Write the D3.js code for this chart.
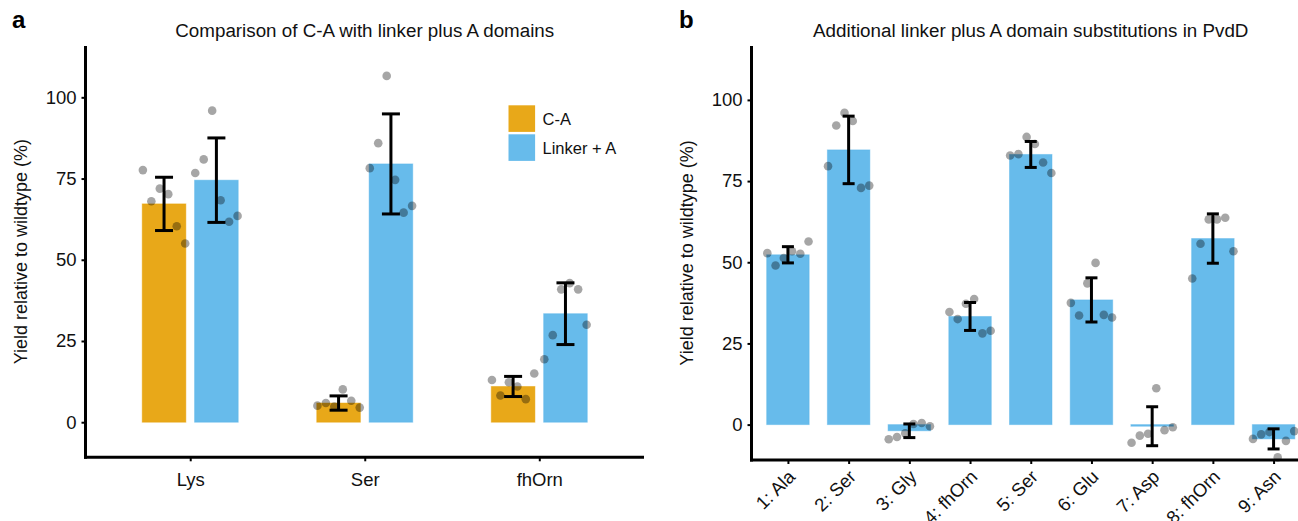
<!DOCTYPE html>
<html lang="en">
<head>
  <meta charset="UTF-8">
  <title>Linker plus A domain yields</title>
  <style>
    body, html {
      margin: 0;
      padding: 0;
      background: #fff;
    }
    #svg text {
      font-family: "Liberation Sans", Arial, Helvetica, sans-serif;
    }
  </style>
</head>
<body>
  <svg id="svg" width="1298" height="521"></svg>
  <script src="https://d3js.org/d3.v7.min.js"></script>
  <script>
    // Panel a: C-A vs linker + A
    const catsA = ['Lys', 'Ser', 'fhOrn']
    const seriesA = ['C-A', 'Linker + A']
    const meanCA = [67.2, 5.9, 11.0]
    const sdCA = [8.2, 2.2, 3.1]
    const meanLinker = [74.5, 79.5, 33.4]
    const sdLinker = [13.0, 15.4, 9.5]
    const pointsCA = [
      [77.6, 68.0, 71.9, 70.2, 60.3, 55.0],
      [5.1, 5.9, 4.8, 10.1, 6.6, 4.5],
      [13.0, 8.2, 12.3, 11.0, 7.1, 15.0]
    ]
    const pointsLinker = [
      [76.7, 80.9, 95.9, 68.3, 61.7, 63.5],
      [78.2, 85.9, 106.6, 74.6, 64.5, 66.6],
      [19.4, 26.8, 40.9, 42.8, 40.9, 30.0]
    ]

    // Panel b: additional substitutions in PvdD
    const catsB = ['1: Ala', '2: Ser', '3: Gly', '4: fhOrn', '5: Ser', '6: Glu', '7: Asp', '8: fhOrn', '9: Asn']
    const meanB = [52.3, 84.6, -1.9, 33.3, 83.2, 38.4, -0.5, 57.3, -4.4]
    const sdB = [2.5, 10.4, 2.1, 4.3, 4.0, 6.8, 6.0, 7.6, 3.1]
    const pointsB = [
      [52.8, 49.0, 51.3, 53.4, 52.6, 56.4],
      [79.6, 92.1, 96.0, 93.5, 72.9, 73.6],
      [-4.5, -3.8, -2.7, 0.2, 0.5, -0.5],
      [34.7, 32.5, 37.2, 38.7, 28.1, 28.9],
      [82.9, 83.3, 88.6, 86.4, 80.7, 77.5],
      [37.5, 33.6, 43.5, 49.8, 33.8, 33.0],
      [-5.6, -3.4, -2.8, 11.2, -1.7, -0.8],
      [45.0, 55.7, 63.2, 63.2, 63.7, 53.4],
      [-4.4, -3.0, -2.3, -10.1, -5.0, -2.0]
    ]

    const yTicks = [0, 25, 50, 75, 100]
    const colors = { 'C-A': '#E69F00', 'Linker + A': '#56B4E9' }

    const svg = d3.select('#svg')

    // draws axes, title, letter for one panel
    function drawFrame(g, x, y, opts) {
      const [x0, x1] = x.range()
      const [yb, yt] = y.range()

      const yAxis = g.append('g')
        .attr('transform', `translate(${x0},0)`)
        .call(d3.axisLeft(y).tickValues(yTicks).tickSize(4).tickSizeOuter(0).tickPadding(5))
      yAxis.select('.domain').remove()
      yAxis.selectAll('line').attr('stroke', '#000').attr('stroke-width', 2)
      yAxis.selectAll('text').attr('font-size', 18.5).attr('fill', '#111')

      const xAxis = g.append('g')
        .attr('transform', `translate(0,${yb})`)
        .call(d3.axisBottom(x).tickSize(4).tickSizeOuter(0).tickPadding(opts.rotate ? 6 : 12))
      xAxis.select('.domain').remove()
      xAxis.selectAll('line').attr('stroke', '#000').attr('stroke-width', 2)
      const xt = xAxis.selectAll('text').attr('font-size', 18.5).attr('fill', '#111')
      if (opts.rotate) {
        xt.attr('text-anchor', 'end')
          .attr('dy', '0.75em')
          .attr('transform', 'translate(-9,1) rotate(-45)')
      }

      // axis lines
      g.append('line')
        .attr('x1', x0).attr('x2', x0).attr('y1', yt).attr('y2', yb + 1.5)
        .attr('stroke', '#000').attr('stroke-width', 3)
      g.append('line')
        .attr('x1', x0 - 1.5).attr('x2', x1).attr('y1', yb).attr('y2', yb)
        .attr('stroke', '#000').attr('stroke-width', 3)

      g.append('text')
        .attr('x', (x0 + x1) / 2).attr('y', 37)
        .attr('text-anchor', 'middle')
        .attr('font-size', 18.8)
        .attr('fill', '#111')
        .text(opts.title)

      g.append('text')
        .attr('transform', `translate(${opts.ylabX},${(yt + yb) / 2}) rotate(-90)`)
        .attr('text-anchor', 'middle')
        .attr('font-size', 18)
        .attr('fill', '#111')
        .text('Yield relative to wildtype (%)')

      g.append('text')
        .attr('x', opts.letterX).attr('y', 28)
        .attr('font-size', 24)
        .attr('font-weight', 'bold')
        .text(opts.letter)
    }

    function drawBars(g, x, y, cats, means, sds, pts, color, offset, width, capW) {
      const step = x.step()
      const w = width * step
      const cx = d => x(d) + offset * step

      g.selectAll(null)
        .data(cats)
        .join('rect')
        .attr('x', d => cx(d) - w / 2)
        .attr('width', w)
        .attr('y', (d, i) => Math.min(y(means[i]), y(0)))
        .attr('height', (d, i) => Math.max(Math.abs(y(means[i]) - y(0)), 1))
        .attr('fill', color)
        .attr('fill-opacity', 0.9)
        .attr('stroke', color)
        .attr('stroke-opacity', 0.45)
        .attr('stroke-width', 1)

      // jittered replicate points
      const flat = []
      cats.forEach((c, i) => pts[i].forEach((v, j) => {
        flat.push({ x: cx(c) + (j / (pts[i].length - 1) - 0.5) * w * 0.97, v })
      }))
      g.selectAll(null)
        .data(flat)
        .join('circle')
        .attr('cx', d => d.x)
        .attr('cy', d => y(d.v))
        .attr('r', 4.3)
        .attr('fill', '#000')
        .attr('fill-opacity', 0.35)

      // error bars (mean +/- sd)
      const eb = g.selectAll(null)
        .data(cats)
        .join('g')
        .attr('stroke', '#000')
        .attr('stroke-width', 3)
      eb.append('line')
        .attr('x1', d => cx(d)).attr('x2', d => cx(d))
        .attr('y1', (d, i) => y(means[i] + sds[i]))
        .attr('y2', (d, i) => y(means[i] - sds[i]))
      eb.append('line')
        .attr('x1', d => cx(d) - capW / 2).attr('x2', d => cx(d) + capW / 2)
        .attr('y1', (d, i) => y(means[i] + sds[i]))
        .attr('y2', (d, i) => y(means[i] + sds[i]))
      eb.append('line')
        .attr('x1', d => cx(d) - capW / 2).attr('x2', d => cx(d) + capW / 2)
        .attr('y1', (d, i) => y(means[i] - sds[i]))
        .attr('y2', (d, i) => y(means[i] - sds[i]))
    }

    // ---- panel a
    const xA = d3.scalePoint().domain(catsA).range([85.5, 644]).padding(0.6)
    const yA = d3.scaleLinear().domain([-10.8, 115.8]).range([457.3, 46])
    const gA = svg.append('g')
    drawFrame(gA, xA, yA, { title: 'Comparison of C-A with linker plus A domains', letter: 'a', letterX: 12, ylabX: 27 })
    drawBars(gA, xA, yA, catsA, meanCA, sdCA, pointsCA, colors['C-A'], -0.15, 0.25, 18)
    drawBars(gA, xA, yA, catsA, meanLinker, sdLinker, pointsLinker, colors['Linker + A'], 0.15, 0.25, 18)

    // legend
    const legend = gA.selectAll('.legend')
      .data(seriesA)
      .join('g')
      .attr('class', 'legend')
      .attr('transform', (d, i) => `translate(508.5,${105.3 + i * 29})`)
    legend.append('rect')
      .attr('width', 26.6).attr('height', 26.6)
      .attr('fill', d => colors[d])
      .attr('fill-opacity', 0.9)
    legend.append('text')
      .attr('x', 34).attr('y', 13.5)
      .attr('dy', '0.35em')
      .attr('font-size', 16.5)
      .attr('fill', '#111')
      .text(d => d)

    // ---- panel b
    const xB = d3.scalePoint().domain(catsB).range([751.5, 1310]).padding(0.6)
    const yB = d3.scaleLinear().domain([-10.9, 116.6]).range([460, 46])
    const gB = svg.append('g')
    drawFrame(gB, xB, yB, { title: 'Additional linker plus A domain substitutions in PvdD', letter: 'b', letterX: 679, ylabX: 693, rotate: true })
    drawBars(gB, xB, yB, catsB, meanB, sdB, pointsB, colors['Linker + A'], 0, 0.7, 12)
  </script>
</body>
</html>
